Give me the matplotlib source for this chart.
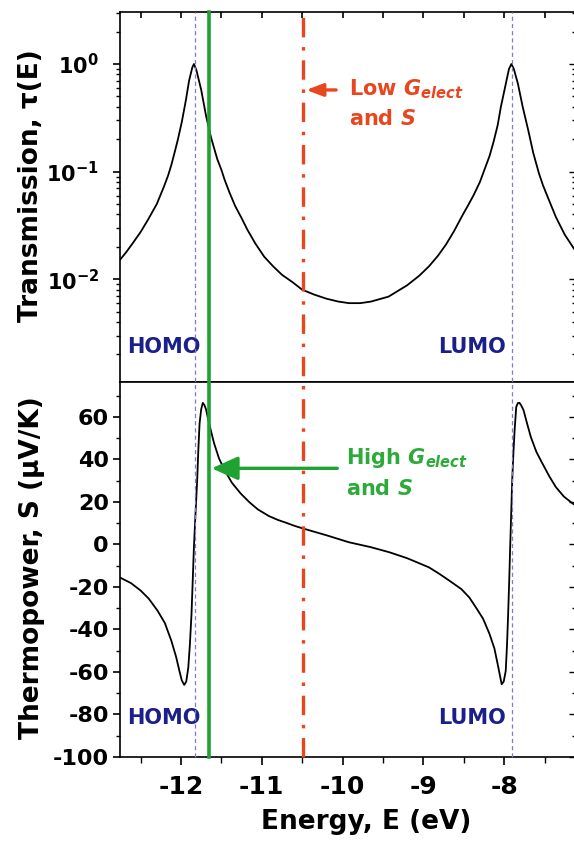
import matplotlib.pyplot as plt
import matplotlib.transforms as mtransforms
from matplotlib.lines import Line2D
from matplotlib.ticker import MultipleLocator, LogLocator, NullFormatter

plt.rcParams['font.family'] = 'DejaVu Sans'
plt.rcParams['font.weight'] = 'bold'
plt.rcParams['axes.labelweight'] = 'bold'
plt.rcParams['axes.unicode_minus'] = False
plt.rcParams['mathtext.fontset'] = 'dejavusans'
plt.rcParams['mathtext.default'] = 'bf'
plt.rcParams['lines.scale_dashes'] = False

# transmission
energy_t = [-12.76, -12.68, -12.60, -12.50, -12.41, -12.30, -12.21, -12.16, -12.12, -12.08,
            -12.04, -11.99, -11.94, -11.90, -11.86, -11.84, -11.81, -11.75, -11.69, -11.63,
            -11.59, -11.55, -11.50, -11.46, -11.40, -11.33, -11.25, -11.18, -11.08, -10.97,
            -10.86, -10.75, -10.62, -10.50, -10.35, -10.20, -10.05, -9.92, -9.78, -9.65,
            -9.43, -9.20, -9.05, -8.93, -8.82, -8.72, -8.62, -8.51, -8.45, -8.38,
            -8.30, -8.23, -8.18, -8.13, -8.08, -8.04, -7.98, -7.94, -7.91, -7.88,
            -7.83, -7.77, -7.70, -7.64, -7.57, -7.52, -7.46, -7.36, -7.25, -7.12]
trans = [0.0150, 0.0178, 0.0215, 0.0275, 0.0356, 0.050, 0.073, 0.092, 0.115, 0.150,
         0.197, 0.29, 0.46, 0.70, 0.93, 1.00, 0.88, 0.575, 0.33, 0.21,
         0.165, 0.13, 0.104, 0.084, 0.064, 0.048, 0.037, 0.029, 0.0215, 0.0162,
         0.0132, 0.0110, 0.0094, 0.0080, 0.0072, 0.0066, 0.0062, 0.0060, 0.0060, 0.0062,
         0.0069, 0.0088, 0.0108, 0.0132, 0.0165, 0.021, 0.028, 0.040, 0.048, 0.060,
         0.080, 0.111, 0.14, 0.19, 0.27, 0.40, 0.65, 0.90, 1.00, 0.90,
         0.66, 0.40, 0.24, 0.15, 0.097, 0.075, 0.058, 0.038, 0.026, 0.0185]

# thermopower
energy_s = [-12.76, -12.62, -12.50, -12.40, -12.29, -12.20, -12.12, -12.06, -12.02, -11.99,
            -11.96, -11.935, -11.91, -11.89, -11.87, -11.855, -11.84, -11.82, -11.80, -11.785,
            -11.77, -11.75, -11.73, -11.71, -11.69, -11.67, -11.63, -11.59, -11.53, -11.46,
            -11.37, -11.26, -11.155, -11.05, -10.91, -10.80, -10.70, -10.60, -10.50, -10.20,
            -9.92, -9.65, -9.42, -9.20, -8.93, -8.80, -8.68, -8.53, -8.43, -8.35,
            -8.26, -8.18, -8.12, -8.08, -8.05, -8.03, -8.005, -7.98, -7.965, -7.95,
            -7.937, -7.925, -7.912, -7.90, -7.885, -7.87, -7.85, -7.83, -7.81, -7.79,
            -7.76, -7.72, -7.67, -7.60, -7.525, -7.44, -7.36, -7.26, -7.15, -7.12]
thermo = [-15.5, -18.2, -21.7, -25.5, -31.2, -37.0, -45.3, -53.0, -59.5, -64.0,
          -66.1, -64.5, -58.0, -47.0, -32.7, -17.0, -1.3, 15.0, 30.0, 45.0,
          57.0, 63.6, 66.6, 65.5, 63.5, 60.0, 53.5, 47.5, 40.5, 34.9,
          29.0, 23.9, 19.9, 16.5, 13.3, 11.5, 10.2, 8.8, 7.6, 4.3,
          1.0, -1.3, -3.7, -6.5, -10.8, -13.9, -17.0, -21.0, -25.0, -29.6,
          -35.0, -42.2, -49.0, -56.3, -62.0, -65.8, -64.5, -59.5, -48.0, -32.7,
          -17.0, -1.3, 15.0, 30.0, 43.0, 53.7, 64.7, 66.5, 66.6, 65.5,
          63.2, 57.5, 50.6, 43.5, 38.0, 32.0, 27.0, 22.5, 19.2, 18.5]

homo_level = -11.83
lumo_level = -7.90
low_energy = -10.49
high_energy = -11.65

x_ticks = [-12, -11, -10, -9, -8]
s_ticks = [-100, -80, -60, -40, -20, 0, 20, 40, 60]
t_ticks = [1e-2, 1e-1, 1]
t_labels = [r'$10^{-2}$', r'$10^{-1}$', r'$10^{0}$']

red = '#E8461E'
green = '#1FA232'
green_txt = '#2EAA3A'
navy = '#1A1F8A'
dotc = '#7A7AD0'

fig = plt.figure(figsize=(5.74, 8.42), dpi=100)
ax1 = fig.add_axes([0.2091, 0.5463, 0.7944, 0.4394])
ax2 = fig.add_axes([0.2091, 0.1010, 0.7944, 0.4453])

for ax in (ax1, ax2):
    ax.set_xlim(-12.755, -7.11)
    for sp in ax.spines.values():
        sp.set_linewidth(1.2)

# top panel
ax1.plot(energy_t, trans, color='black', lw=1.3)
ax1.set_yscale('log')
ax1.set_ylim(1.11e-3, 3.04)
ax1.set_yticks(t_ticks)
ax1.set_yticklabels(t_labels)
ax1.yaxis.set_minor_locator(LogLocator(subs=range(2, 10)))
ax1.yaxis.set_minor_formatter(NullFormatter())
ax1.tick_params(axis='y', which='major', direction='out', length=5, width=1.2,
                labelsize=15, pad=10)
ax1.tick_params(axis='y', which='minor', direction='out', length=3, width=1.0)
ax1.xaxis.set_major_locator(MultipleLocator(1))
ax1.xaxis.set_minor_locator(MultipleLocator(0.5))
ax1.tick_params(axis='x', which='both', bottom=False, top=True, direction='in',
                labelbottom=False, length=4, width=1.2)
r1 = ax1.secondary_yaxis('right')
r1.tick_params(which='both', direction='in', labelright=False, width=1.0)
r1.tick_params(which='major', length=5)
r1.tick_params(which='minor', length=3)
ax1.set_ylabel('Transmission, τ(E)', fontsize=19)
ax1.yaxis.set_label_coords(-0.167, 0.53)

# bottom panel
ax2.plot(energy_s, thermo, color='black', lw=1.3)
ax2.set_ylim(-100, 76.4)
ax2.set_yticks(s_ticks)
ax2.yaxis.set_minor_locator(MultipleLocator(10))
ax2.set_xticks(x_ticks)
ax2.xaxis.set_minor_locator(MultipleLocator(0.5))
ax2.tick_params(axis='y', which='major', direction='out', length=5, width=1.2,
                labelsize=16, pad=3)
ax2.tick_params(axis='y', which='minor', direction='out', length=3, width=1.0)
ax2.tick_params(axis='x', which='major', direction='out', length=6, width=1.2,
                labelsize=18, pad=7)
ax2.tick_params(axis='x', which='minor', direction='out', length=4, width=1.0)
r2 = ax2.secondary_yaxis('right')
r2.set_yticks(s_ticks)
r2.yaxis.set_minor_locator(MultipleLocator(10))
r2.tick_params(which='both', direction='in', labelright=False, width=1.0)
r2.tick_params(which='major', length=5)
r2.tick_params(which='minor', length=3)
ax2.set_ylabel('Thermopower, S (μV/K)', fontsize=19)
ax2.yaxis.set_label_coords(-0.165, 0.504)
ax2.set_xlabel('Energy, E (eV)', fontsize=19)
ax2.xaxis.set_label_coords(0.539, -0.14)

# vertical markers through both panels
vtrans = mtransforms.blended_transform_factory(ax2.transData, fig.transFigure)
y0, y1 = 0.1010, 0.9857
for xv in (homo_level, lumo_level):
    fig.add_artist(Line2D([xv, xv], [y0, y1], transform=vtrans, color=dotc,
                          lw=0.9, dashes=(3, 2.2), zorder=3))
fig.add_artist(Line2D([low_energy, low_energy], [y0, y1], transform=vtrans, color=red,
                      lw=2.4, dashes=(14, 7, 2.5, 7), zorder=4))
fig.add_artist(Line2D([high_energy, high_energy], [y0, y1], transform=vtrans, color=green,
                      lw=2.6, zorder=4))

# annotations
ax1.annotate('', xy=(-10.45, 0.574), xytext=(-10.08, 0.574),
             arrowprops=dict(arrowstyle='-|>,head_length=1.0,head_width=0.38',
                             color=red, lw=2.4, mutation_scale=10,
                             shrinkA=0, shrinkB=0))
ax1.text(-9.917, 0.515, r'Low $\mathbfit{G}_{\mathbfit{elect}}$', color=red,
         fontsize=15, ha='left', va='baseline')
ax1.text(-9.917, 0.272, r'and $\mathbfit{S}$', color=red,
         fontsize=15, ha='left', va='baseline')
ax1.text(-12.665, 2.07e-3, 'HOMO', color=navy, fontsize=15, ha='left', va='baseline')
ax1.text(-7.974, 2.07e-3, 'LUMO', color=navy, fontsize=15, ha='right', va='baseline')

ax2.annotate('', xy=(-11.62, 35.8), xytext=(-10.065, 35.8),
             arrowprops=dict(arrowstyle='-|>,head_length=1.6,head_width=0.72',
                             color=green, lw=2.4, mutation_scale=10,
                             shrinkA=0, shrinkB=0))
ax2.text(-9.954, 37.7, r'High $\mathbfit{G}_{\mathbfit{elect}}$', color=green_txt,
         fontsize=15, ha='left', va='baseline')
ax2.text(-9.954, 23.1, r'and $\mathbfit{S}$', color=green_txt,
         fontsize=15, ha='left', va='baseline')
ax2.text(-12.665, -84.5, 'HOMO', color=navy, fontsize=15, ha='left', va='baseline')
ax2.text(-7.974, -84.5, 'LUMO', color=navy, fontsize=15, ha='right', va='baseline')

fig.savefig('out.png', dpi=100)
